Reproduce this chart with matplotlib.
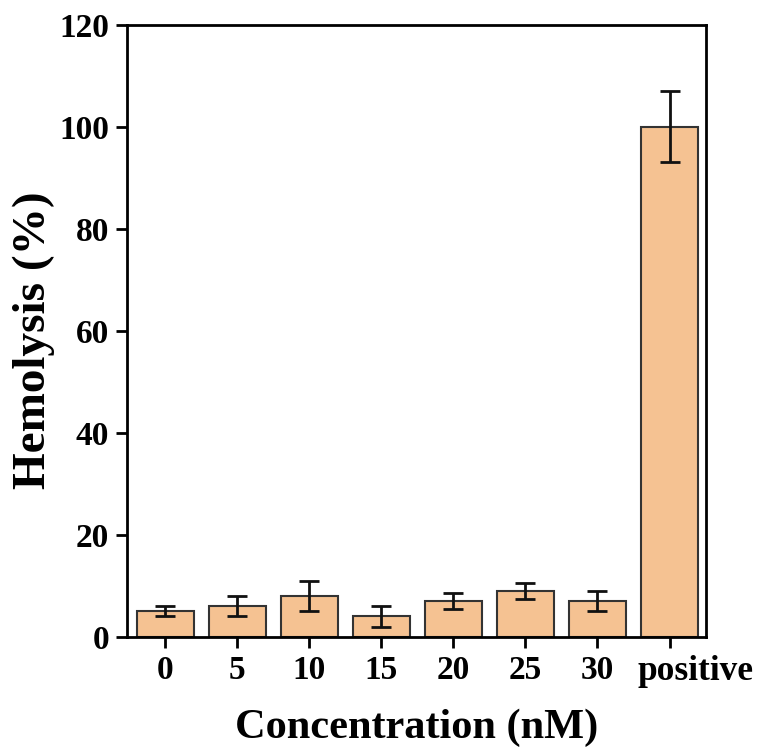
import matplotlib
matplotlib.use("Agg")
import matplotlib.pyplot as plt
import matplotlib.transforms as mtransforms
import numpy as np

categories = ["0", "5", "10", "15", "20", "25", "30", "positive"]
values = [5, 6, 8, 4, 7, 9, 7, 100]
errors = [1, 2, 3, 2, 1.5, 1.6, 2, 7]
yticks = [0, 20, 40, 60, 80, 100, 120]

plt.rcParams['font.family'] = ['Liberation Serif', 'DejaVu Serif']
plt.rcParams['font.weight'] = 'bold'

fig = plt.figure(figsize=(7.66, 7.51), dpi=100)
ax = fig.add_axes([0.166, 0.152, 0.756, 0.815])

x = np.arange(len(categories))
ax.bar(x, values, width=0.8, color='#F5C292', edgecolor='#333333', linewidth=1.5,
       yerr=errors, error_kw=dict(ecolor='#111111', elinewidth=2, capsize=7, capthick=2))

ax.set_xlim(-0.53, 7.51)
ax.set_ylim(0, 120)
ax.set_yticks(yticks)
ax.set_xticks(x)
ax.set_xticklabels(categories)
ax.tick_params(axis='both', direction='out', length=8, width=2, labelsize=24, pad=5)
for lab in ax.get_xticklabels() + ax.get_yticklabels():
    lab.set_fontweight('bold')
for sp in ax.spines.values():
    sp.set_linewidth(2)

# the "positive" label sits to the right of its tick in the reference
last = ax.get_xticklabels()[-1]
last.set_transform(last.get_transform() + mtransforms.ScaledTranslation(0.26, 0, fig.dpi_scale_trans))
last.set_fontsize(25.5)

ax.set_xlabel("Concentration (nM)", fontsize=30.5, fontweight='bold', labelpad=15)
ax.set_ylabel("Hemolysis (%)", fontsize=34, fontweight='bold')
ax.yaxis.set_label_coords(-0.125, 0.484)

fig.savefig("out.png", dpi=100)
